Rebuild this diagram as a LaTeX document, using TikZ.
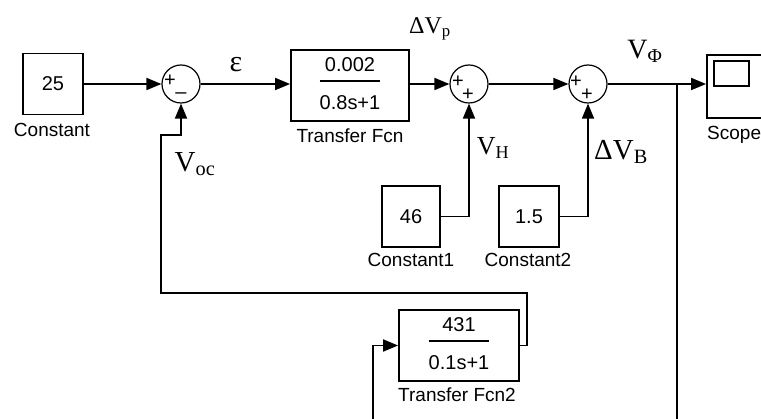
\documentclass[tikz,border=0pt]{standalone}
\usepackage{fontspec}
\newfontfamily\blkfont{Liberation Sans}
\newfontfamily\sigfont{Liberation Serif}
\usetikzlibrary{arrows.meta,positioning}
\setlength{\arrayrulewidth}{1.8pt}
\newcommand{\tffrac}[2]{\begin{tabular}{@{}c@{}}#1\\[2pt]\hline\rule{0pt}{27pt}#2\end{tabular}}
\newcommand{\fsz}[1]{\fontsize{#1}{#1}\selectfont}

\begin{document}
\begin{tikzpicture}[x=1pt,y=-1pt,
	blk/.style={draw, line width=1.8pt, inner sep=0pt, font=\blkfont\fontsize{20}{24}\selectfont},
	sumnode/.style={draw, circle, line width=1.2pt, minimum size=38pt, inner sep=0pt},
	sgn/.style={inner sep=0pt, font=\blkfont\fsz{20}},
	lbl/.style={inner sep=0pt, anchor=base, font=\blkfont\fsz{19}},
	siglbl/.style={inner sep=0pt, font=\sigfont},
	sig/.style={line width=1.8pt, -{Triangle[length=15pt,width=12pt]}},
	]
		%%%%% FRAME %%%%%
		\useasboundingbox (0,0) rectangle (761,419);
		\clip (0,0) rectangle (761,419);
		
		%%%%% BLOCKS %%%%%
		\node[blk, minimum width=60pt, minimum height=61pt] (c25) at (53,84) {25};
		\node[lbl] (c25lbl) at (52,137) {Constant};
		
		\node[sumnode] (sum1) at (181,84) {};
		\node[sgn] (sum1a) at (170,81) {+};
		\node[sgn] (sum1b) at (181,96) {\textendash};
		
		\node[blk, minimum width=118pt, minimum height=71pt] (tf1) at (350,85.5) {\tffrac{0.002}{0.8s+1}};
		\node[lbl] (tf1lbl) at (350,143) {Transfer Fcn};
		
		\node[sumnode] (sum2) at (469,84) {};
		\node[sgn] (sum2a) at (458,82) {+};
		\node[sgn] (sum2b) at (468,95) {+};
		
		\node[sumnode] (sum3) at (588,84) {};
		\node[sgn] (sum3a) at (576,82) {+};
		\node[sgn] (sum3b) at (587,95) {+};
		
		\node[blk, minimum width=80pt, minimum height=63pt] (scope) at (747,86.5) {};
		\draw[line width=1.8pt] ([shift={(8,7)}]scope.north west) rectangle ++(35,25);
		\node[lbl, anchor=base west] (scopelbl) at (707,140) {Scope};
		
		\node[blk, minimum width=58pt, minimum height=61pt] (c46) at (411,216.5) {46};
		\node[lbl] (c46lbl) at (411,267) {Constant1};
		\node[blk, minimum width=60pt, minimum height=61pt] (c15) at (529,216.5) {1.5};
		\node[lbl] (c15lbl) at (528,267) {Constant2};
		
		\node[blk, minimum width=120pt, minimum height=71pt] (tf2) at (459,345.5) {\tffrac{431}{0.1s+1}};
		\node[lbl] (tf2lbl) at (457,402) {Transfer Fcn2};
		
		%%%%% SIGNALS %%%%%
		\draw[sig] (c25.east) -- (sum1.west);
		\draw[sig] (sum1.east) -- (sum1.east -| tf1.west);
		\draw[sig] (sum2.west -| tf1.east) -- (sum2.west);
		\draw[sig] (sum2) -- (sum3);
		\draw[sig] (sum3.east) -- (sum3.east -| scope.west);
		\coordinate (branch) at (677,84);
		\draw[sig] (branch) |- (373,440) |- (tf2.west);
		\draw[sig] (c46.east) -| (sum2.south);
		\draw[sig] (c15.east) -| (sum3.south);
		\draw[sig] (tf2.east) -| (527,293) -| (161,135) -| (sum1.south);
		
		%%%%% SIGNAL NAMES %%%%%
		\node[siglbl, font=\sigfont\fsz{30}] (eps) at (236,65) {ε};
		\node[siglbl, font=\sigfont\fsz{24}] (dvp) at (430,29) {ΔV\textsubscript{p}};
		\node[siglbl, font=\sigfont\fsz{28}] (vphi) at (645,51) {V\textsubscript{Φ}};
		\node[siglbl, font=\sigfont\fsz{26}] (vh) at (493,148) {V\textsubscript{H}};
		\node[siglbl, font=\sigfont\fsz{29}] (dvb) at (621,152) {ΔV\textsubscript{B}};
		\node[siglbl, font=\sigfont\fsz{29}] (voc) at (195,164) {V\textsubscript{oc}};
	\end{tikzpicture}
\end{document}
